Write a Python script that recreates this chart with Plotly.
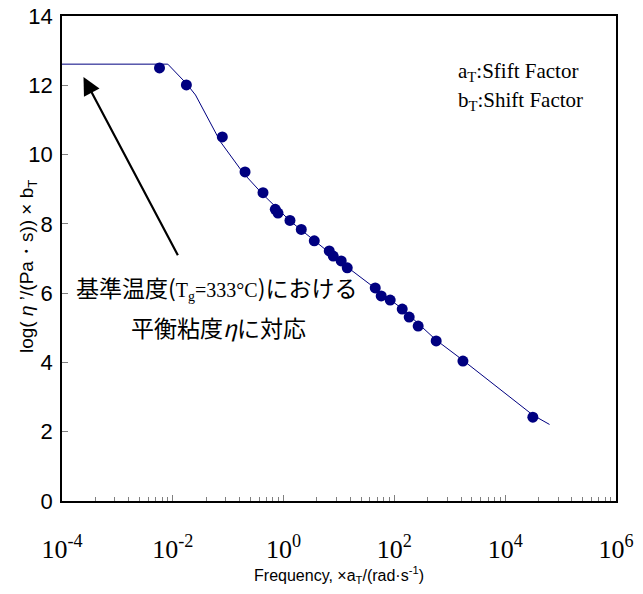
import plotly.graph_objects as go

# measured data points (frequency x aT in rad/s, log viscosity x bT)
pt_freq = [0.00575, 0.01758, 0.0783, 0.2014, 0.4246, 0.708, 0.792, 1.303, 2.084,
           3.581, 6.668, 7.870, 10.96, 14.09, 45.08, 57.81, 83.95, 138.4, 184.9,
           268.5, 567.5, 1726, 31550]
pt_logeta = [12.50, 12.01, 10.51, 9.50, 8.90, 8.42, 8.31, 8.10, 7.84,
             7.51, 7.22, 7.07, 6.93, 6.73, 6.15, 5.92, 5.80, 5.54, 5.31,
             5.05, 4.62, 4.04, 2.42]

# master curve
curve_freq = [1e-4, 0.00813, 0.01738, 0.0257, 0.0724, 0.1862, 0.417, 1.318,
              14.13, 138.0, 562.3, 1738, 31623, 63096]
curve_logeta = [12.61, 12.61, 12.06, 11.72, 10.37, 9.47, 8.86, 8.08,
                6.75, 5.55, 4.65, 4.06, 2.48, 2.21]

x_tickvals = [1e-4, 1e-2, 1, 1e2, 1e4, 1e6]
x_ticktext = ["10<sup>-4</sup>", "10<sup>-2</sup>", "10<sup>0</sup>",
              "10<sup>2</sup>", "10<sup>4</sup>", "10<sup>6</sup>"]
y_tickvals = [0, 2, 4, 6, 8, 10, 12, 14]

# minor ticks: Excel-style log ticks spanning two decades per major step
minor_vals = []
for s in [1e-4, 1e-2, 1, 1e2, 1e4]:
    for k in range(2, 10):
        minor_vals.append(s * k * k)

NAVY = "#000080"
SERIF = "Liberation Serif, Times New Roman, serif"
SANS = "Liberation Sans, Arial, sans-serif"

L, R, T, B = 62, 27, 16, 93
PW, PH = 643 - L - R, 594 - T - B


def px(x):
    return (x - L) / PW


def py(y):
    return 1 - (y - T) / PH


fig = go.Figure()
fig.add_trace(go.Scatter(x=curve_freq, y=curve_logeta, mode="lines",
                         line=dict(color=NAVY, width=1), showlegend=False,
                         hoverinfo="skip"))
fig.add_trace(go.Scatter(x=pt_freq, y=pt_logeta, mode="markers",
                         marker=dict(color=NAVY, size=11, symbol="circle"),
                         showlegend=False))

fig.update_layout(
    width=643, height=594,
    margin=dict(l=L, r=R, t=T, b=B),
    paper_bgcolor="white", plot_bgcolor="white",
    xaxis=dict(type="log", range=[-4, 6], tickvals=x_tickvals, ticktext=x_ticktext,
               ticks="inside", ticklen=6, tickcolor="#808080", tickwidth=1,
               showline=True, linecolor="black", linewidth=1.5, mirror=True,
               showgrid=False, zeroline=False, automargin=False,
               tickfont=dict(family=SERIF, size=26, color="black"),
               ticklabelstandoff=24,
               minor=dict(tickvals=minor_vals, ticks="inside", ticklen=4,
                          tickcolor="#808080", showgrid=False),
               title=dict(text="Frequency, ×a<sub>T</sub>/(rad·s<sup>-1</sup>)",
                          font=dict(family=SANS, size=16, color="black"),
                          standoff=6)),
    yaxis=dict(range=[0, 14], tickvals=y_tickvals,
               ticks="inside", ticklen=6, tickcolor="#808080", tickwidth=1,
               showline=True, linecolor="black", linewidth=1.5, mirror=True,
               showgrid=False, zeroline=False, automargin=False,
               tickfont=dict(family=SANS, size=22, color="black"),
               ticklabelstandoff=3),
)

fig.add_annotation(x=px(28), y=py(267), xref="paper", yref="paper",
                   text="log( <i>η</i> ’/(Pa・s)) × b<sub>T</sub>", textangle=-90,
                   showarrow=False, xanchor="center", yanchor="middle",
                   font=dict(family=SANS, size=19, color="black"))

fig.add_annotation(x=-3.612, y=12.24, ax=-1.894, ay=7.05, xref="x", yref="y",
                   axref="x", ayref="y", text="", showarrow=True,
                   arrowhead=2, arrowsize=1.6, arrowwidth=2.2, arrowcolor="black")

fig.add_annotation(x=px(216), y=py(287), xref="paper", yref="paper",
                   text="基準温度(<span style=\"font-family:'Liberation Serif';font-size:20px\">T<sub>g</sub>=333°C</span>)における",
                   showarrow=False, xanchor="center", yanchor="middle",
                   font=dict(family="Noto Sans CJK JP", size=23, color="black"))
fig.add_annotation(x=px(218), y=py(327), xref="paper", yref="paper",
                   text="平衡粘度<i>η</i>に対応",
                   showarrow=False, xanchor="center", yanchor="middle",
                   font=dict(family="Noto Sans CJK JP", size=23, color="black"))

fig.add_annotation(x=px(456), y=py(72), xref="paper", yref="paper",
                   text="a<sub>T</sub>:Sfift Factor", showarrow=False,
                   xanchor="left", yanchor="middle",
                   font=dict(family=SERIF, size=21, color="black"))
fig.add_annotation(x=px(456), y=py(101), xref="paper", yref="paper",
                   text="b<sub>T</sub>:Shift Factor", showarrow=False,
                   xanchor="left", yanchor="middle",
                   font=dict(family=SERIF, size=21, color="black"))

fig.write_html("out.html")
